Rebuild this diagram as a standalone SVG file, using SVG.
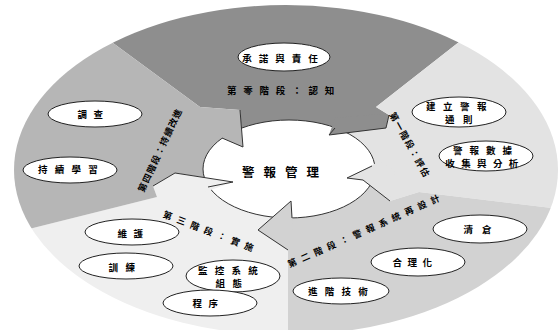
<svg xmlns="http://www.w3.org/2000/svg" width="558" height="330" viewBox="0 0 558 330">
<style>
.s0{fill:#8e8e8e}.s1{fill:#e3e3e3}.s2{fill:#d2d2d2}.s3{fill:#efefef}.s4{fill:#b6b6b6}
.edge{fill:none;stroke:#333;stroke-width:1;stroke-linejoin:miter}
.node{fill:#fff;stroke:#222;stroke-width:1}
text{font-family:"Noto Sans CJK TC","Noto Sans CJK SC",sans-serif;font-weight:bold;fill:#000;text-anchor:middle;dominant-baseline:central}
.t{font-size:9.5px;letter-spacing:7px}
.st{font-size:9px}
</style>
<defs>
<clipPath id="ring"><ellipse cx="286" cy="170" rx="272" ry="165"/></clipPath>
</defs>
<rect width="558" height="330" fill="#fff"/>
<g id="segments" clip-path="url(#ring)">
<polygon class="s0" points="222,138 243,147 240,110 200,107 113,43 60,4 60,-40 520,-40 510,2 459,42 376,107 389,115 386,128 329,135 289,169"/>
<polygon class="s1" points="329,135 386,128 389,115 376,107 459,42 510,2 620,2 620,214 600,214 552,208 419,192 390,201 363,180 347,178 289,169"/>
<polygon class="s2" points="347,178 363,180 390,201 419,192 552,208 600,214 620,214 620,360 288,360 288,250 258,230 291,201 289,169"/>
<polygon class="s3" points="291,201 258,230 288,250 288,360 -20,360 -20,241 33,228 157,197 153,186 175,173 233,182 289,169"/>
<polygon class="s4" points="233,182 175,173 153,186 157,197 33,228 -20,241 -20,4 60,4 113,43 200,107 240,110 243,147 222,138 289,169"/>
</g>
<g id="center">
<ellipse cx="289" cy="169" rx="86" ry="49" fill="#fff" stroke="#333" stroke-width="1"/>
<polygon class="s4" points="240,112 243,147 222,138 222,118"/>
<polygon class="s0" points="386,128 329,135 335,118 380,114"/>
<polygon class="s1" points="390,201 363,180 347,178 380,161 395,170"/>
<polygon class="s2" points="258,230 291,201 293,226 288,250"/>
<polygon class="s3" points="153,186 175,173 233,182 205,192"/>
<text x="285" y="171" style="font-size:12.5px;letter-spacing:9px">警報管理</text>
</g>
<g id="connectors">
<polyline class="edge" points="240,110 243,147 222,138"/>
<polyline class="edge" points="389,115 386,128 329,135 335,128"/>
<polyline class="edge" points="390,201 363,180 347,178 372,166"/>
<polyline class="edge" points="288,250 258,230 291,201 292,218"/>
<polyline class="edge" points="153,186 175,173 233,182 208,187"/>
</g>
<g id="stage0">
<text class="t" x="284" y="90" style="letter-spacing:6.8px">第零階段：認知</text>
<g id="n-commit"><ellipse class="node" cx="284" cy="57" rx="46" ry="14"/><text class="t" x="283.5" y="58">承諾與責任</text></g>
</g>
<g id="stage1">
<text class="st" transform="translate(410,145) rotate(61)" style="letter-spacing:1.5px">第一階段：評估</text>
<g id="n-rules"><ellipse class="node" cx="459" cy="112" rx="47" ry="15"/><text class="t" x="460" y="105.5" style="letter-spacing:7.5px">建立警報</text><text class="t" x="463" y="118.5" style="letter-spacing:8.5px">通則</text></g>
<g id="n-data"><ellipse class="node" cx="486" cy="156" rx="47" ry="15"/><text class="t" x="486" y="149.5">警報數據</text><text class="t" x="485" y="162.5" style="letter-spacing:6.4px">收集與分析</text></g>
</g>
<g id="stage2">
<text class="st" transform="translate(366,230) rotate(-24)" style="letter-spacing:5.2px">第二階段：警報系統再設計</text>
<g id="n-clean"><ellipse class="node" cx="480" cy="229" rx="47" ry="14"/><text class="t" x="482" y="229" style="letter-spacing:9px">清倉</text></g>
<g id="n-rational"><ellipse class="node" cx="418" cy="262" rx="47" ry="14"/><text class="t" x="415" y="262" style="letter-spacing:5.5px">合理化</text></g>
<g id="n-adv"><ellipse class="node" cx="341" cy="291" rx="48" ry="13"/><text class="t" x="341.5" y="291" style="letter-spacing:7.2px">進階技術</text></g>
</g>
<g id="stage3">
<text class="st" transform="translate(211,232) rotate(21)" style="letter-spacing:5.5px">第三階段：實施</text>
<g id="n-maint"><ellipse class="node" cx="132" cy="232" rx="47" ry="13"/><text class="t" x="133.5" y="233" style="letter-spacing:6.5px">維護</text></g>
<g id="n-train"><ellipse class="node" cx="126" cy="266" rx="47" ry="13"/><text class="t" x="125.5" y="267" style="letter-spacing:7.5px">訓練</text></g>
<g id="n-monitor"><ellipse class="node" cx="233" cy="276" rx="47" ry="16"/><text class="t" x="231.5" y="269.5" style="letter-spacing:7.2px">監控系統</text><text class="t" x="232.5" y="282.5" style="letter-spacing:7.5px">組態</text></g>
<g id="n-proc"><ellipse class="node" cx="210" cy="303" rx="47" ry="13"/><text class="t" x="208.5" y="303" style="letter-spacing:6.5px">程序</text></g>
</g>
<g id="stage4">
<text class="st" transform="translate(160,150) rotate(-65)" style="letter-spacing:1.2px">第四階段：持續改進</text>
<g id="n-invest"><ellipse class="node" cx="95" cy="114" rx="47" ry="13"/><text class="t" x="93.5" y="114" style="letter-spacing:6.5px">調查</text></g>
<g id="n-learn"><ellipse class="node" cx="70" cy="170" rx="47" ry="13"/><text class="t" x="71.5" y="169" style="letter-spacing:7.2px">持續學習</text></g>
</g>
</svg>
